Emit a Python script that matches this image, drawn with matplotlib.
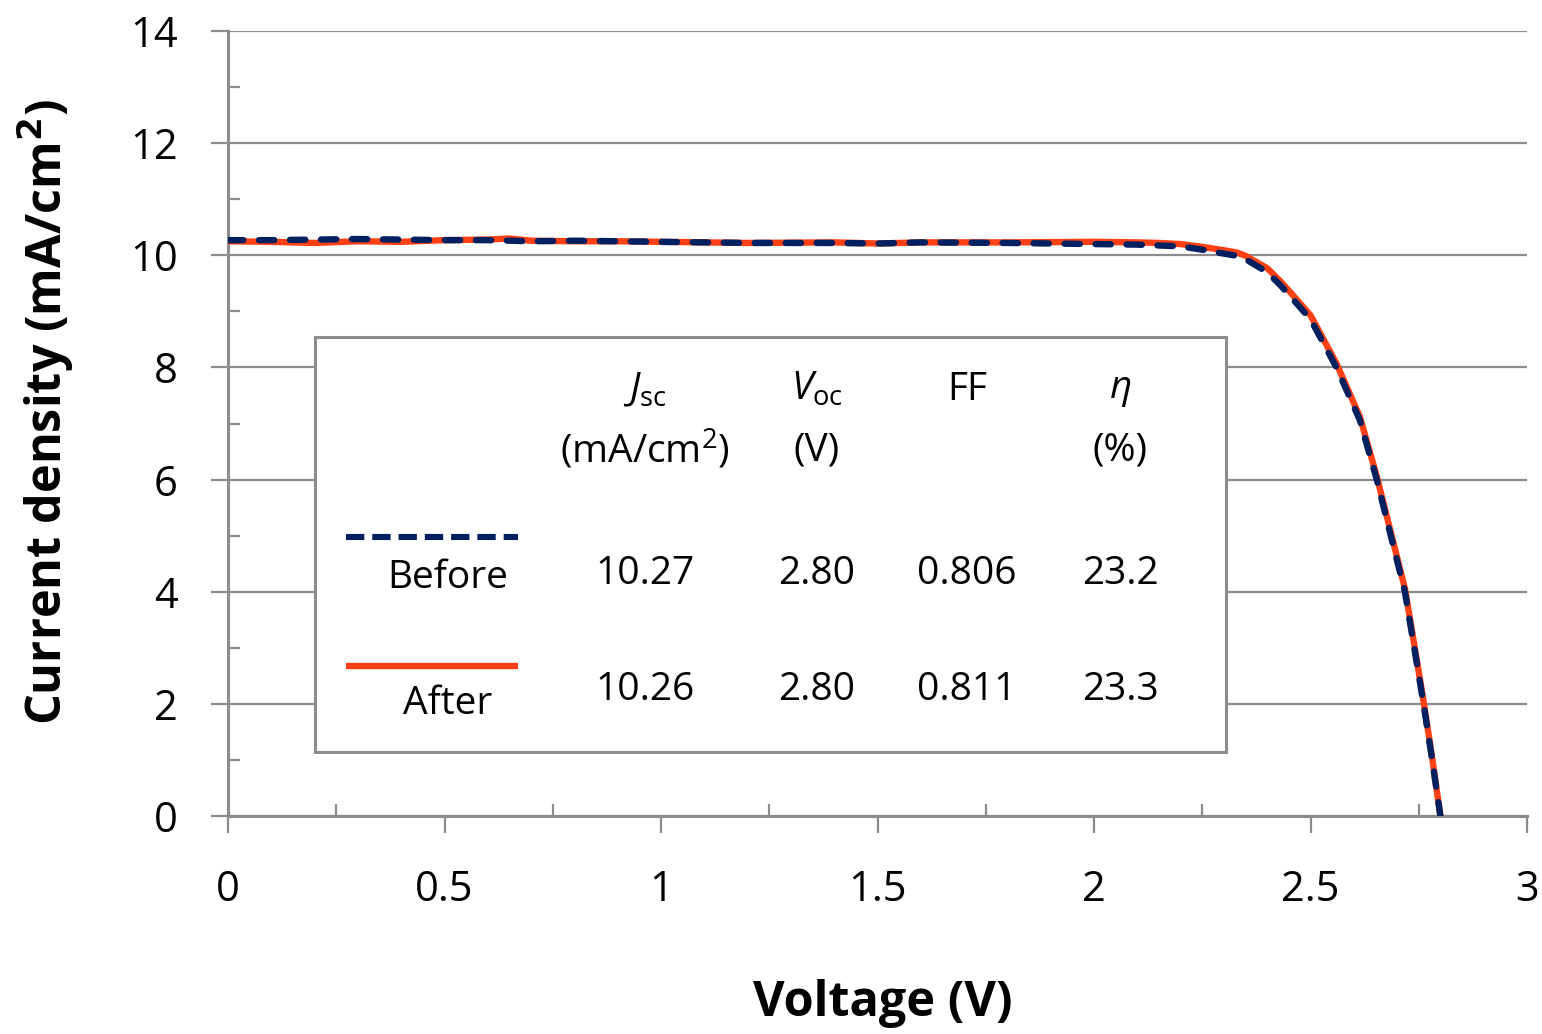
#!/usr/bin/env python3
"""J-V curves of a solar cell before and after treatment, with a parameter table."""

import matplotlib.pyplot as plt
from matplotlib.lines import Line2D
from matplotlib.patches import Rectangle
from matplotlib.ticker import MultipleLocator

# --- data ---
v_before = [0.0, 0.1, 0.2, 0.3, 0.4, 0.5, 0.6, 0.7, 0.8, 0.9, 1.0, 1.2, 1.4, 1.5,
            1.6, 1.8, 2.0, 2.1, 2.2, 2.25, 2.3, 2.33, 2.35, 2.4, 2.43, 2.45, 2.5,
            2.56, 2.614, 2.653, 2.69, 2.718, 2.74, 2.761, 2.78, 2.8]
j_before = [10.27, 10.27, 10.28, 10.29, 10.28, 10.27, 10.27, 10.25, 10.26, 10.25,
            10.24, 10.22, 10.22, 10.21, 10.23, 10.22, 10.20, 10.19, 10.16, 10.10,
            10.03, 9.99, 9.93, 9.70, 9.47, 9.30, 8.86, 8.00, 7.06, 6.00, 4.86,
            4.00, 2.98, 2.00, 1.05, 0.0]

v_after = [0.0, 0.1, 0.2, 0.3, 0.4, 0.5, 0.6, 0.65, 0.7, 0.8, 0.9, 1.0, 1.2, 1.4,
           1.5, 1.6, 1.8, 2.0, 2.1, 2.15, 2.2, 2.25, 2.3, 2.33, 2.35, 2.4, 2.43,
           2.45, 2.5, 2.56, 2.614, 2.653, 2.69, 2.718, 2.74, 2.761, 2.78, 2.8]
j_after = [10.25, 10.24, 10.22, 10.25, 10.24, 10.27, 10.28, 10.30, 10.26, 10.25,
           10.25, 10.24, 10.22, 10.23, 10.21, 10.23, 10.23, 10.24, 10.23, 10.22,
           10.20, 10.15, 10.09, 10.05, 9.99, 9.77, 9.54, 9.37, 8.93, 8.07, 7.12,
           6.06, 4.92, 4.06, 3.04, 2.05, 1.09, 0.0]

row_labels = ["Before", "After"]
col_heads = [r"$\mathit{J}_{\mathrm{sc}}$", r"$\mathit{V}_{\mathrm{oc}}$", "FF", r"$\mathit{\eta}$"]
col_units = ["(mA/cm$^2$)", "(V)", "", "(%)"]
table_values = [["10.27", "2.80", "0.806", "23.2"],
                ["10.26", "2.80", "0.811", "23.3"]]

NAVY = "#002060"
ORANGE = "#FF4015"
GRAY = "#8C8C8C"
W, H = 1542, 1034

plt.rcParams["font.family"] = ["Open Sans", "DejaVu Sans"]
plt.rcParams["mathtext.fontset"] = "custom"
plt.rcParams["mathtext.rm"] = "Open Sans"
plt.rcParams["mathtext.it"] = "Open Sans:italic"


def fx(px):
    return px / W


def fy(py):
    return 1 - py / H


fig = plt.figure(figsize=(W / 100, H / 100), dpi=100)
ax = fig.add_axes([fx(228), fy(816), fx(1527) - fx(228), fy(31) - fy(816)])

ax.plot(v_after, j_after, color=ORANGE, lw=4.6, solid_capstyle="round",
        solid_joinstyle="round", zorder=3)
ax.plot(v_before, j_before, color=NAVY, lw=4.6, dashes=(2.4, 2.45),
        dash_capstyle="round", dash_joinstyle="round", zorder=4)

ax.set_xlim(0, 3)
ax.set_ylim(0, 14)
ax.xaxis.set_major_locator(MultipleLocator(0.5))
ax.xaxis.set_minor_locator(MultipleLocator(0.25))
ax.yaxis.set_major_locator(MultipleLocator(2))
ax.yaxis.set_minor_locator(MultipleLocator(1))
ax.set_xticks([0, 0.5, 1, 1.5, 2, 2.5, 3])
ax.set_xticklabels(["0", "0.5", "1", "1.5", "2", "2.5", "3"])

ax.grid(True, which="major", axis="y", color=GRAY, lw=1.6, zorder=0)
for s in ["top", "right"]:
    ax.spines[s].set_visible(False)
for s in ["left", "bottom"]:
    ax.spines[s].set_color(GRAY)
    ax.spines[s].set_linewidth(2.2)
ax.tick_params(which="major", direction="out", length=12, width=1.6, color=GRAY,
               labelsize=30)
ax.tick_params(axis="x", which="major", pad=26)
ax.tick_params(axis="y", which="major", pad=24)
ax.tick_params(which="minor", direction="in", length=8.5, width=1.6, color=GRAY)

fig.text(fx(883), fy(1004), "Voltage (V)", fontsize=35, fontweight="bold",
         ha="center", va="center")
fig.text(fx(46), fy(412), "Current density (mA/cm$^\\mathbf{2}$)", fontsize=35,
         fontweight="bold", rotation=90, ha="center", va="center")

# --- parameter table box ---
fig.patches.append(Rectangle((fx(315), fy(752)), fx(1226) - fx(315), fy(337) - fy(752),
                             transform=fig.transFigure, facecolor="white",
                             edgecolor=GRAY, lw=2.2, zorder=5))

col_x = [645, 817, 967, 1120]
for cx, head, unit in zip(col_x, col_heads, col_units):
    fig.text(fx(cx), fy(390), head, fontsize=28, ha="center", va="center", zorder=6)
    if unit:
        fig.text(fx(cx), fy(450), unit, fontsize=28, ha="center", va="center", zorder=6)

row_y = [574, 690]
label_y = [578, 704]
line_y = [537, 666]
styles = [dict(color=NAVY, lw=4.4, dashes=(3.0, 1.3), dash_capstyle="butt"),
          dict(color=ORANGE, lw=4.6, solid_capstyle="butt")]
for i, lab in enumerate(row_labels):
    fig.lines.append(Line2D([fx(346), fx(518)], [fy(line_y[i]), fy(line_y[i])],
                            transform=fig.transFigure, zorder=6, **styles[i]))
    fig.text(fx(448), fy(label_y[i]), lab, fontsize=28, ha="center", va="center", zorder=6)
    for cx, val in zip(col_x, table_values[i]):
        fig.text(fx(cx), fy(row_y[i]), val, fontsize=28, ha="center", va="center", zorder=6)

fig.savefig("out.png", dpi=100)
